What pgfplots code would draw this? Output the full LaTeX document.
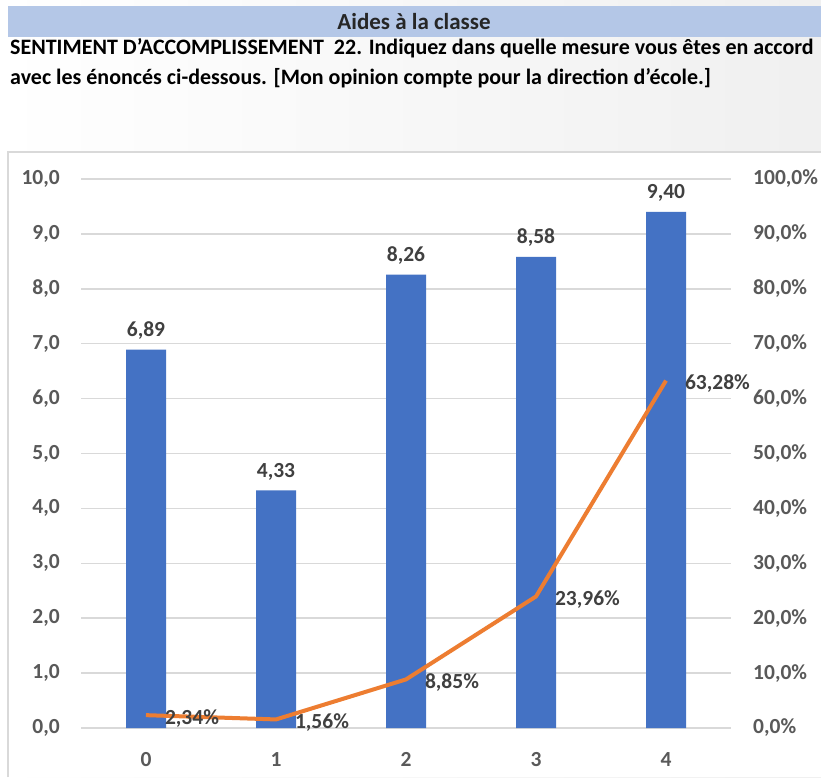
\documentclass[border=0pt]{standalone}
\usepackage{fontspec}
\setmainfont{Carlito}
\usepackage{pgfplots}
\pgfplotsset{compat=1.18}
\definecolor{barblue}{HTML}{4472C4}
\definecolor{lineorange}{HTML}{ED7D31}
\definecolor{gridgray}{HTML}{D9D9D9}
\definecolor{ticktext}{HTML}{595959}
\definecolor{labeltext}{HTML}{404040}
\definecolor{band}{HTML}{B4C7E7}
\newcommand{\chartfont}{\fontsize{21.5pt}{25pt}\selectfont\bfseries}
\begin{document}
\begin{tikzpicture}
\useasboundingbox (0pt,0pt) rectangle (821pt,777pt);
% background panel
\shade[left color=white, right color=black!6] (0pt,0pt) rectangle (821pt,777pt);
\fill[white] (8pt,0pt) rectangle (821pt,625pt);
\draw[gridgray, line width=1.2pt] (8pt,0pt) -- (8pt,625pt) -- (821pt,625pt);
% title band
\fill[band] (8pt,740pt) rectangle (821pt,771pt);
\node[font=\fontsize{23pt}{27pt}\selectfont\bfseries, text=black!85] at (414pt,755pt) {Aides à la classe};
\node[anchor=base west, font=\fontsize{22pt}{26pt}\selectfont\bfseries, inner sep=0pt] at (10pt,722pt)
  {SENTIMENT D’ACCOMPLISSEMENT\ \ 22. Indiquez dans quelle mesure vous êtes en accord};
\node[anchor=base west, font=\fontsize{22pt}{26pt}\selectfont\bfseries, inner sep=0pt] at (10pt,692pt)
  {avec les énoncés ci-dessous. [Mon opinion compte pour la direction d’école.]};

\begin{axis}[
  at={(81pt,49pt)}, anchor=south west,
  scale only axis, width=650pt, height=549pt,
  xmin=-0.5, xmax=4.5, ymin=0, ymax=10,
  xtick={0,1,2,3,4}, ytick={0,1,...,10},
  /pgf/number format/assume math mode=true,
  yticklabel={\pgfmathprintnumber[fixed,fixed zerofill,precision=1,use comma]{\tick}},
  ticklabel style={font=\chartfont, text=ticktext, inner sep=0pt},
  yticklabel style={anchor=east, xshift=-21pt},
  xticklabel style={anchor=north, yshift=-24pt},
  major tick length=0pt,
  axis line style={draw=none},
  ymajorgrids, major grid style={gridgray, line width=1.5pt},
  clip=false,
]
\addplot[ybar, bar width=40pt, fill=barblue, draw=none,
  nodes near coords={\pgfmathprintnumber[fixed,fixed zerofill,precision=2,use comma]{\pgfplotspointmeta}},
  every node near coord/.append style={font=\chartfont, text=labeltext, anchor=base, inner sep=0pt, yshift=13pt}]
  coordinates {(0,6.89) (1,4.33) (2,8.26) (3,8.58) (4,9.40)};
\end{axis}

\begin{axis}[
  at={(81pt,49pt)}, anchor=south west,
  scale only axis, width=650pt, height=549pt,
  xmin=-0.5, xmax=4.5, ymin=0, ymax=100,
  axis y line*=right, axis x line=none,
  ytick={0,10,...,100},
  /pgf/number format/assume math mode=true,
  yticklabel={\pgfmathprintnumber[fixed,fixed zerofill,precision=1,use comma]{\tick}\%},
  yticklabel style={font=\chartfont, text=ticktext, inner sep=0pt, anchor=west, xshift=22pt},
  major tick length=0pt,
  axis line style={draw=none},
  clip=false,
]
\addplot[lineorange, line width=4pt, line join=round, mark=none,
  nodes near coords={\pgfmathprintnumber[fixed,fixed zerofill,precision=2,use comma]{\pgfplotspointmeta}\%},
  every node near coord/.append style={font=\chartfont, text=labeltext, anchor=west, inner sep=0pt, xshift=17pt, yshift=-3pt}]
  coordinates {(0,2.34) (1,1.56) (2,8.85) (3,23.96) (4,63.28)};
\end{axis}
\end{tikzpicture}
\end{document}
